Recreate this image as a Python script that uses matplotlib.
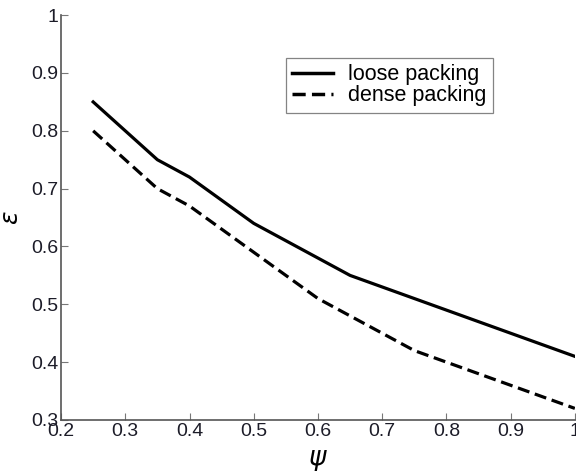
import numpy as np
import matplotlib.pyplot as plt

plt.rcParams['font.family'] = ['Liberation Sans', 'DejaVu Sans']

# loose / dense packing, porosity vs sphericity
psi_loose = [0.25, 0.35, 0.40, 0.50, 0.60, 0.65, 0.75, 1.00]
eps_loose = [0.85, 0.75, 0.72, 0.64, 0.58, 0.55, 0.51, 0.41]
psi_dense = [0.25, 0.35, 0.40, 0.50, 0.60, 0.65, 0.75, 1.00]
eps_dense = [0.80, 0.70, 0.67, 0.59, 0.51, 0.48, 0.42, 0.32]

xticks = [0.2, 0.3, 0.4, 0.5, 0.6, 0.7, 0.8, 0.9, 1]
yticks = [0.3, 0.4, 0.5, 0.6, 0.7, 0.8, 0.9, 1]

fig = plt.figure(figsize=(5.76, 4.74), dpi=100)
ax = fig.add_axes([0.106, 0.114, 0.892, 0.854])

ax.plot(psi_loose, eps_loose, color='black', lw=2.3, label='loose packing')
ax.plot(psi_dense, eps_dense, color='black', lw=2.3, ls=(0, (3.8, 1.8)), label='dense packing')

ax.set_xlim(0.2, 1)
ax.set_ylim(0.3, 1)
ax.set_xticks(xticks)
ax.set_xticklabels(['0.2', '0.3', '0.4', '0.5', '0.6', '0.7', '0.8', '0.9', '1'])
ax.set_yticks(yticks)
ax.set_yticklabels(['0.3', '0.4', '0.5', '0.6', '0.7', '0.8', '0.9', '1'])
ax.tick_params(direction='in', length=5, width=0.8, color='#777777',
               labelsize=14, labelcolor='#1c1c28', pad=2)
for lab in ax.get_xticklabels():
    lab.set_clip_on(False)
ax.spines['top'].set_visible(False)
ax.spines['right'].set_visible(False)
ax.spines['left'].set_color('#555555')
ax.spines['bottom'].set_color('#555555')
ax.spines['left'].set_linewidth(1.2)
ax.spines['bottom'].set_linewidth(1.2)

ax.set_xlabel(r'$\psi$', fontsize=19, labelpad=6)
ax.set_ylabel(r'$\varepsilon$', fontsize=18, labelpad=6)

leg = ax.legend(loc='upper left', bbox_to_anchor=(286/576, 1 - 58/474),
                bbox_transform=fig.transFigure, fontsize=15.5, frameon=True,
                fancybox=False, handlelength=1.9, borderpad=0.3,
                labelspacing=0.0, handletextpad=0.7, borderaxespad=0)
leg.get_frame().set_edgecolor('#666666')
leg.get_frame().set_linewidth(0.9)
for line in leg.get_lines():
    line.set_linewidth(2.5)

plt.savefig('out.png', dpi=100)
